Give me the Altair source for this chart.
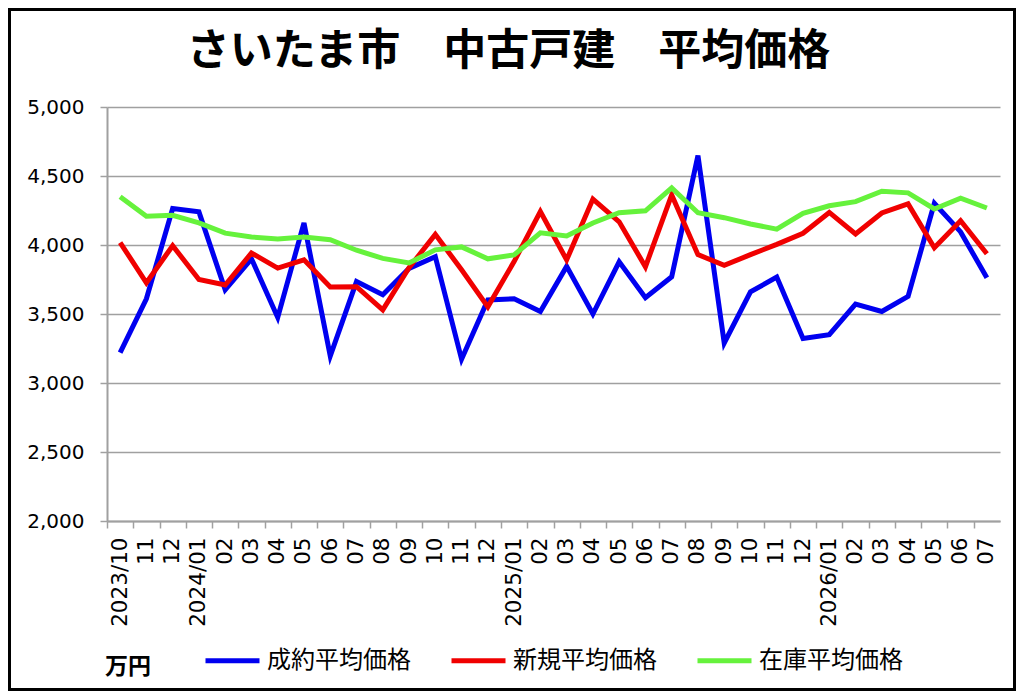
import altair as alt
import pandas as pd

months = [
    "2023/10", "2023/11", "2023/12",
    "2024/01", "2024/02", "2024/03", "2024/04", "2024/05", "2024/06",
    "2024/07", "2024/08", "2024/09", "2024/10", "2024/11", "2024/12",
    "2025/01", "2025/02", "2025/03", "2025/04", "2025/05", "2025/06",
    "2025/07", "2025/08", "2025/09", "2025/10", "2025/11", "2025/12",
    "2026/01", "2026/02", "2026/03", "2026/04", "2026/05", "2026/06", "2026/07",
]

series_names = ["成約平均価格", "新規平均価格", "在庫平均価格"]
series_colors = ["#0000F0", "#F00000", "#66F23C"]

seiyaku = [3220, 3610, 4265, 4240, 3675, 3900, 3475, 4160, 3195, 3735, 3640, 3830,
           3915, 3172, 3602, 3610, 3518, 3845, 3500, 3878, 3618, 3770, 4648, 3290,
           3660, 3768, 3322, 3350, 3572, 3518, 3628, 4302, 4095, 3762]
shinki = [4018, 3726, 3995, 3750, 3710, 3942, 3833, 3893, 3696, 3698, 3530, 3835,
          4077, 3820, 3552, 3880, 4243, 3892, 4333, 4168, 3842, 4363, 3930, 3853,
          3930, 4005, 4085, 4236, 4080, 4232, 4298, 3980, 4176, 3937]
zaiko = [4350, 4208, 4215, 4160, 4086, 4058, 4043, 4058, 4038, 3962, 3903, 3870,
         3965, 3986, 3900, 3928, 4088, 4065, 4160, 4234, 4248, 4414, 4234, 4198,
         4152, 4115, 4230, 4284, 4314, 4390, 4378, 4261, 4340, 4268]

y_ticks = [2000, 2500, 3000, 3500, 4000, 4500, 5000]
year_labels = ["2023/10", "2024/01", "2025/01", "2026/01"]
title_text = "さいたま市　中古戸建　平均価格"

rows = []
for name, vals in zip(series_names, [seiyaku, shinki, zaiko]):
    for i, (m, v) in enumerate(zip(months, vals)):
        rows.append({"month": m, "idx": i, "series": name, "value": v})
df = pd.DataFrame(rows)

jp = "Noto Sans CJK JP"
num = "DejaVu Sans"
grid_c = "#A0A0A0"

W = 893
H = 414
PAD_L, PAD_T, PAD_R, PAD_B = 99, 99, 16, 170
half_step = W / len(months) / 2

label_expr = (
    "indexof(" + str(year_labels) + ", datum.value) >= 0 ? datum.value : slice(datum.value, 5)"
)

lines = alt.Chart(df).mark_line(strokeWidth=5).encode(
    x=alt.X(
        "month:O",
        scale=alt.Scale(type="point", padding=0.5, domain=months),
        axis=alt.Axis(
            title=None,
            labelAngle=270,
            labelAlign="right",
            labelBaseline="middle",
            labelFont=num,
            labelFontSize=21.5,
            labelColor="black",
            labelPadding=9,
            labelExpr=label_expr,
            tickOffset=-half_step,
            labelOffset=half_step,
            tickSize=7,
            tickColor=grid_c,
            tickWidth=1.5,
            domainColor=grid_c,
            domainWidth=2,
            grid=False,
            labelOverlap=False,
        ),
    ),
    y=alt.Y(
        "value:Q",
        scale=alt.Scale(domain=[2000, 5000], nice=False, zero=False),
        axis=alt.Axis(
            title=None,
            values=y_ticks,
            format=",.0f",
            labelFont=num,
            labelFontSize=20,
            labelColor="black",
            labelPadding=16,
            tickSize=7,
            tickColor=grid_c,
            tickWidth=1.5,
            domainColor=grid_c,
            domainWidth=2,
            grid=True,
            gridColor=grid_c,
            gridWidth=1.5,
        ),
    ),
    color=alt.Color(
        "series:N",
        scale=alt.Scale(domain=series_names, range=series_colors),
        legend=alt.Legend(
            title="万円",
            titleOrient="left",
            titleFont=jp,
            titleFontSize=23,
            titleFontWeight="bold",
            titleColor="black",
            titleBaseline="line-top",
            titleLineHeight=31,
            titlePadding=52,
            orient="none",
            legendX=-2,
            legendY=524,
            direction="horizontal",
            symbolSize=2916,
            symbolStrokeWidth=5,
            labelFont=jp,
            labelFontSize=24,
            labelColor="black",
            labelOffset=5,
            columnPadding=30,
        ),
    ),
)

title = alt.Chart(pd.DataFrame({"t": [title_text]})).mark_text(
    font=jp, fontSize=43, fontWeight="bold", color="black",
    align="center", baseline="middle",
).encode(
    text="t:N",
    x=alt.value(W / 2 - 45),
    y=alt.value(-55),
)

frame = alt.Chart(pd.DataFrame({"f": [0]})).mark_rect(
    filled=False, stroke="black", strokeWidth=3
).encode(
    x=alt.value(-PAD_L + 1.5),
    x2=alt.value(W + PAD_R - 1.5),
    y=alt.value(-PAD_T + 1.5),
    y2=alt.value(H + PAD_B - 1.5),
)

chart = alt.layer(lines, title, frame).properties(
    width=W,
    height=H,
    padding={"left": PAD_L, "top": PAD_T, "right": PAD_R, "bottom": PAD_B},
    autosize=alt.AutoSizeParams(type="none"),
    background="white",
).configure_view(stroke=None)

chart.save("out.html", embed_options={"renderer": "svg", "actions": False})
